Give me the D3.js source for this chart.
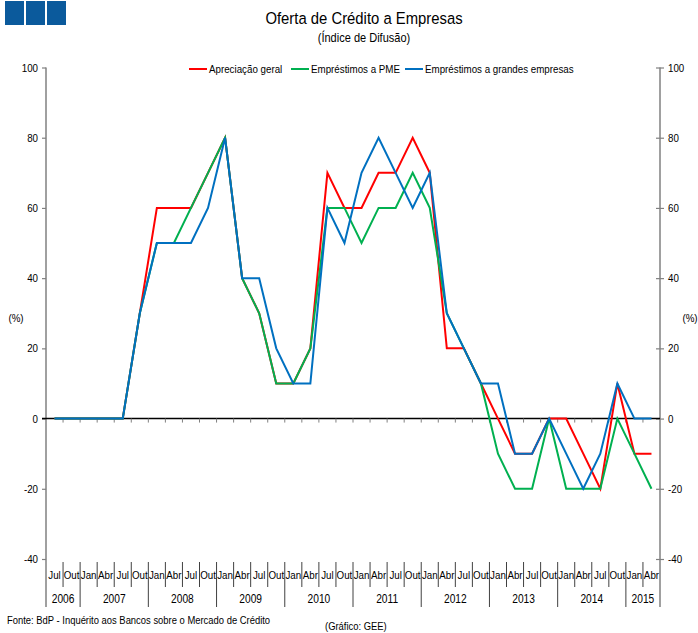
<!DOCTYPE html>
<html>
<head>
<meta charset="utf-8">
<script src="https://cdn.jsdelivr.net/npm/d3@7"></script>
<style>
  html, body { margin: 0; padding: 0; background: #fff; }
  svg { display: block; }
  text { font-family: "Liberation Sans", Arial, sans-serif; fill: #000; }
</style>
</head>
<body>
<svg id="chart" width="698" height="633"></svg>
<script>
// Quarterly periods, Jul 2006 – Abr 2015
const categories = [
  "Jul 2006","Out 2006",
  "Jan 2007","Abr 2007","Jul 2007","Out 2007",
  "Jan 2008","Abr 2008","Jul 2008","Out 2008",
  "Jan 2009","Abr 2009","Jul 2009","Out 2009",
  "Jan 2010","Abr 2010","Jul 2010","Out 2010",
  "Jan 2011","Abr 2011","Jul 2011","Out 2011",
  "Jan 2012","Abr 2012","Jul 2012","Out 2012",
  "Jan 2013","Abr 2013","Jul 2013","Out 2013",
  "Jan 2014","Abr 2014","Jul 2014","Out 2014",
  "Jan 2015","Abr 2015"
];

// Diffusion index (%)
const apreciacaoGeral = [0,0,0,0,0,30,60,60,60,70,80,40,30,10,10,20,70,60,60,70,70,80,70,20,20,10,0,-10,-10,0,0,-10,-20,10,-10,-10];
const emprestimosPME  = [0,0,0,0,0,30,50,50,60,70,80,40,30,10,10,20,60,60,50,60,60,70,60,30,20,10,-10,-20,-20,0,-20,-20,-20,0,-10,-20];
const emprestimosGrandes = [0,0,0,0,0,30,50,50,50,60,80,40,40,20,10,10,60,50,70,80,70,60,70,30,20,10,10,-10,-10,0,-10,-20,-10,10,0,0];

const seriesNames  = ["Apreciação geral", "Empréstimos a PME", "Empréstimos a grandes empresas"];
const seriesColors = ["#ff0000", "#00b050", "#0070c0"];
const yTicks = [-40, -20, 0, 20, 40, 60, 80, 100];

const svg = d3.select("#chart");

// Condensed text: Arial metrics squeezed horizontally
function label(parent, x, y, str, size, anchor = "start", sx = 0.85) {
  return parent.append("text")
    .attr("transform", `translate(${x},${y}) scale(${sx},1)`)
    .attr("text-anchor", anchor)
    .style("font-size", size + "px")
    .text(str);
}

// Header logo blocks
const logo = svg.append("g");
[5, 26, 47].forEach(x0 => {
  logo.append("rect").attr("x", x0).attr("y", 1).attr("width", 19).attr("height", 24).attr("fill", "#0b5a9c");
});

// Titles
label(svg, 364, 24, "Oferta de Crédito a Empresas", 16.5, "middle", 0.9);
label(svg, 364, 42, "(Índice de Difusão)", 12, "middle", 0.92);

// Plot frame
const plotLeft = 46, plotRight = 660, plotTop = 67.5, plotBottom = 559;
const x = d3.scaleBand().domain(d3.range(categories.length)).range([plotLeft, plotRight]).paddingInner(0).paddingOuter(0);
const bw = x.bandwidth();
const y = d3.scaleLinear().domain([-40, 100]).range([plotBottom, plotTop]);
const cx = i => x(i) + bw / 2;

const axisColor = "#808080";

// Left and right value axes (tick marks from d3, labels condensed)
const gl = svg.append("g").attr("transform", `translate(${plotLeft},0)`)
  .call(d3.axisLeft(y).tickValues(yTicks).tickSize(4).tickFormat(""));
gl.select(".domain").remove();
gl.selectAll(".tick line").attr("stroke", axisColor).attr("stroke-width", 1.2);

const gr = svg.append("g").attr("transform", `translate(${plotRight},0)`)
  .call(d3.axisRight(y).tickValues(yTicks).tickSize(4).tickFormat(""));
gr.select(".domain").remove();
gr.selectAll(".tick line").attr("x1", -4).attr("stroke", axisColor).attr("stroke-width", 1.2);

const tickLabels = svg.append("g");
yTicks.forEach(v => {
  label(tickLabels, plotLeft - 8, y(v) + 4, String(v), 11.5, "end");
  label(tickLabels, plotRight + 8, y(v) + 4, String(v), 11.5, "start");
});

// Vertical axis lines, running down through the category rows
svg.append("line").attr("x1", plotLeft).attr("x2", plotLeft).attr("y1", plotTop).attr("y2", 607)
  .attr("stroke", axisColor).attr("stroke-width", 1.5);
svg.append("line").attr("x1", plotRight).attr("x2", plotRight).attr("y1", plotTop).attr("y2", 607)
  .attr("stroke", axisColor).attr("stroke-width", 1.5);

// Unit labels
label(svg, 16, 322, "(%)", 11.5, "middle");
label(svg, 690, 322, "(%)", 11.5, "middle");

// Zero line with category ticks
svg.append("line").attr("x1", plotLeft - 4).attr("x2", plotRight).attr("y1", y(0)).attr("y2", y(0))
  .attr("stroke", "#000").attr("stroke-width", 1.5);
svg.append("g").selectAll("line").data(d3.range(1, categories.length)).join("line")
  .attr("x1", i => x(i)).attr("x2", i => x(i))
  .attr("y1", y(0)).attr("y2", y(0) + 4)
  .attr("stroke", axisColor).attr("stroke-width", 1);

// Category labels: months and years
const months = categories.map(c => c.split(" ")[0]);
const years = categories.map(c => c.split(" ")[1]);
const xg = svg.append("g");
months.forEach((m, i) => label(xg, cx(i), 579, m, 11.5, "middle"));

// Month separators, taller at year boundaries
d3.range(1, categories.length).forEach(i => {
  const yearStart = years[i] !== years[i - 1];
  xg.append("line").attr("x1", x(i)).attr("x2", x(i))
    .attr("y1", 562).attr("y2", yearStart ? 607 : 587)
    .attr("stroke", "#404040").attr("stroke-width", 1);
});

const yearGroups = d3.groups(d3.range(categories.length), i => years[i]);
yearGroups.forEach(([yr, idx]) => {
  const mid = (x(idx[0]) + x(idx[idx.length - 1]) + bw) / 2;
  label(xg, mid, 603, yr, 12, "middle");
});

// Series lines
const seriesData = [apreciacaoGeral, emprestimosPME, emprestimosGrandes];
const line = d3.line().x((d, i) => cx(i)).y(d => y(d));
seriesData.forEach((vals, k) => {
  svg.append("path").datum(vals).attr("d", line)
    .attr("fill", "none").attr("stroke", seriesColors[k])
    .attr("stroke-width", 2).attr("stroke-linejoin", "miter");
});

// Legend
const legendX = [189, 291, 405];
const lg = svg.append("g");
seriesNames.forEach((name, k) => {
  lg.append("line").attr("x1", legendX[k]).attr("x2", legendX[k] + 18)
    .attr("y1", 69).attr("y2", 69).attr("stroke", seriesColors[k]).attr("stroke-width", 2);
  label(lg, legendX[k] + 20, 73, name, 11.5);
});

// Footer
label(svg, 7, 624, "Fonte: BdP - Inquérito aos Bancos sobre o Mercado de Crédito", 11.5, "start", 0.82);
label(svg, 325, 630, "(Gráfico: GEE)", 11.5, "start", 0.82);
</script>
</body>
</html>
